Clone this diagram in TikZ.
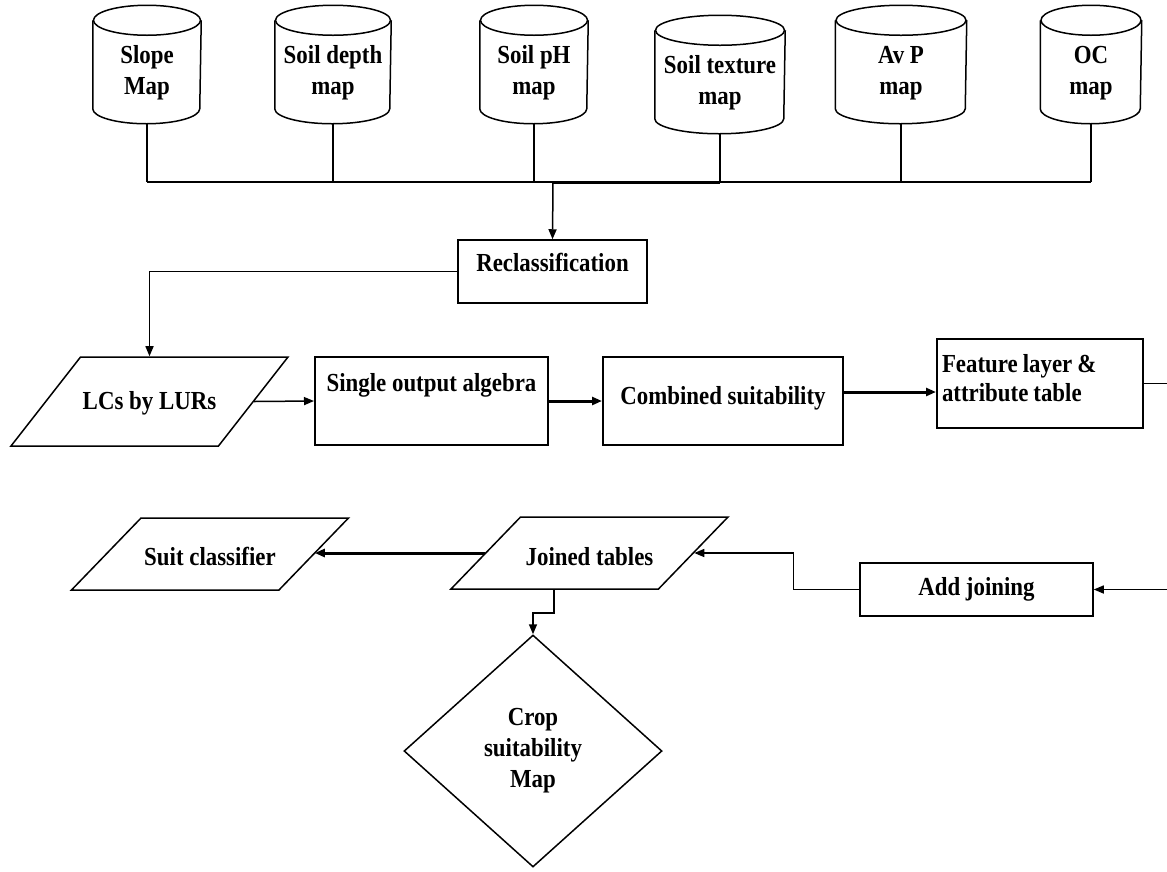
\documentclass[tikz,border=0pt]{standalone}
\usepackage{fontspec}
\setmainfont{Liberation Serif}[FakeStretch=0.88]
\usetikzlibrary{arrows.meta, shapes.geometric}

\begin{document}
\begin{tikzpicture}[x=1pt, y=-1pt, line width=1.5pt, >={Triangle[length=10pt,width=8pt]},
   every node/.style={font=\fontsize{26}{31}\selectfont\bfseries},
   db/.style={inner sep=0pt, align=center, minimum height=100pt},
   box/.style={draw, rectangle, line width=2pt, inner sep=0pt},
   io/.style={draw, trapezium, trapezium stretches body, inner sep=0pt, minimum width=277pt},
   decision/.style={draw, diamond, inner sep=0pt, align=center, minimum width=258pt, minimum height=232pt},
   thickline/.style={line width=3pt}]
   \useasboundingbox (0,0) rectangle (1167,871);

   \node[db, minimum width=107pt] (slope)   at (147,73)  {Slope\\Map};
   \node[db, minimum width=115pt] (depth)   at (333,73)  {Soil depth\\map};
   \node[db, minimum width=107pt] (ph)      at (534,73)  {Soil pH\\map};
   \node[db, minimum width=129pt] (texture) at (720,83)  {Soil texture\\map};
   \node[db, minimum width=130pt] (avp)     at (901,73)  {Av P\\map};
   \node[db, minimum width=100pt] (oc)      at (1091,73) {OC\\map};
   \coordinate (bus) at (553,182);

   \foreach \n/\r in {slope/53.5, depth/57.5, ph/53.5, texture/64.5, avp/65, oc/50} {
      \draw ([yshift=2pt]\n.north) ellipse [x radius=\r, y radius=15];
      \draw ([yshift=2pt]\n.north west) -- ([yshift=15pt]\n.south west)
         arc [start angle=180, end angle=0, x radius=\r, y radius=15]
         -- ([yshift=2pt]\n.north east);
   }

   \node[box, line width=1.5pt, minimum width=189pt, text height=31.5pt, text depth=31.5pt] (reclass) at (552.5,271.5) {Reclassification};
   \node[io, text height=52.5pt, text depth=36.5pt, trapezium left angle=52, trapezium right angle=128] (lcs) at (149.5,401.5) {LCs by LURs};
   \node[box, minimum width=233pt, text height=34.5pt, text depth=53.5pt] (single) at (431.5,401) {Single output algebra};
   \node[box, minimum width=240pt, text height=47.5pt, text depth=40.5pt] (combined) at (723,401) {Combined suitability};
   \node[box, minimum width=206pt, minimum height=89pt, text width=196pt, align=left, font=\fontsize{26}{29}\selectfont\bfseries] (feature) at (1040,383.5) {\spaceskip=5pt\relax Feature layer \&\\attribute table\rule[-12pt]{0pt}{12pt}};
   \node[box, line width=1.5pt, minimum width=233pt, minimum height=53pt] (addjoin) at (976.5,589.5) {Add joining};
   \node[io, text height=48.5pt, text depth=23.5pt, trapezium left angle=46, trapezium right angle=134] (joined) at (589.5,553) {Joined tables};
   \node[io, text height=47.5pt, text depth=24.5pt, trapezium left angle=46, trapezium right angle=134] (suit) at (210,554) {Suit classifier};
   \node[decision] (cropmap) at (533,751) {Crop\\suitability\\Map};

   \foreach \n in {slope, depth, ph, texture, avp, oc}
      \draw (\n.south) -- (\n.south |- bus);
   \draw (slope.south |- bus) -- (oc.south |- bus);
   \draw[thickline] (bus) -- (texture.south |- bus);
   \draw[->] (bus) -- (reclass.north);
   \draw[->] (reclass.west) -| (lcs.north);
   \path[->] (lcs.east) edge (single.west);
   \path[->, thickline] (single.east) edge (combined.west);
   \draw[->, thickline] ([yshift=9pt]combined.east) -- ([yshift=9pt]combined.east -| feature.west);
   \draw[->] (feature.east) -- ++(50,0) |- (addjoin.east);
   \draw[->] (addjoin.west) -- ++(-66,0) |- (joined.east);
   \draw[->, thickline] (joined.west) -- (joined.west -| suit.east);
   \draw[->] (joined.bottom side) -- ++(0,23) -| (cropmap.north);
\end{tikzpicture}
\end{document}
